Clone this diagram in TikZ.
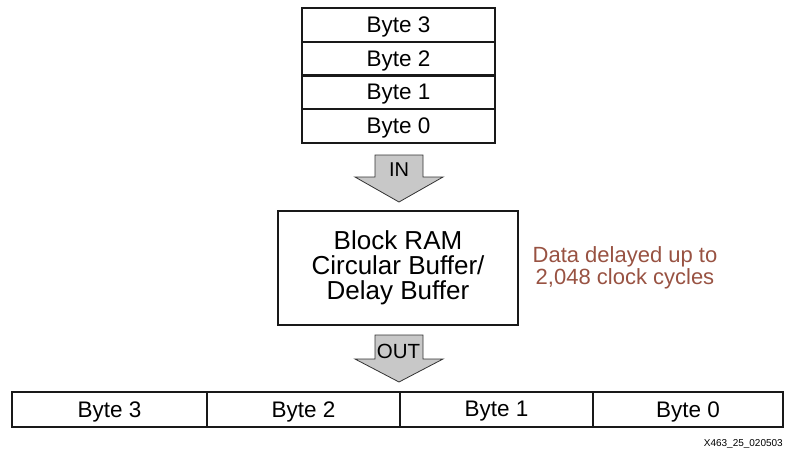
\documentclass[tikz,border=0pt]{standalone}
\usepackage{fontspec}
\setmainfont{Liberation Sans}
\definecolor{notered}{RGB}{152,82,66}
\definecolor{arrowgray}{RGB}{200,200,200}
\begin{document}
\begin{tikzpicture}[x=1pt,y=-1pt,
  cell/.style={draw=black!90, line width=2.2pt, minimum width=193pt, minimum height=33.75pt, inner sep=0pt, text depth=0.5pt, font=\fontsize{22.5}{22.5}\selectfont},
  rowcell/.style={draw=black!90, line width=2.2pt, minimum height=35pt, inner sep=0pt, text depth=0.5pt, font=\fontsize{22.5}{22.5}\selectfont},
  blockarrow/.style={fill=arrowgray, draw=black!80, line width=0.8pt},
  ram/.style={draw=black!90, line width=2.2pt, minimum width=240pt, minimum height=114pt, align=center, inner sep=0pt, font=\fontsize{26}{25}\selectfont},
  note/.style={text=notered, align=center, inner sep=0pt, font=\fontsize{22}{20.5}\selectfont}
]
\useasboundingbox (0,0) rectangle (786,453);
% top stack
\node[cell] (b3) at (398.5,24.875) {Byte 3};
\node[cell] (b2) at (398.5,58.625) {Byte 2};
\node[cell] (b1) at (398.5,92.375) {Byte 1};
\node[cell] (b0) at (398.5,126.125) {Byte 0};
% IN arrow
\draw[blockarrow] (375,155) -- (423,155) -- (423,177) -- (443,177) -- (399,202) -- (355,177) -- (375,177) -- cycle;
\node[font=\fontsize{20}{20}\selectfont, inner sep=0pt] (in) at (399,170) {IN};
% RAM
\node[ram] (ram) at (398,268) {Block RAM\\Circular Buffer/\\Delay Buffer};
\node[note] (note) at (625,268) {Data delayed up to\\2,048 clock cycles};
% OUT arrow
\draw[blockarrow] (375,335) -- (423,335) -- (423,359) -- (443,359) -- (399,382) -- (355,359) -- (375,359) -- cycle;
\node[font=\fontsize{20.5}{20.5}\selectfont, inner sep=0pt] (out) at (398.5,351) {OUT};
% bottom row
\node[rowcell, minimum width=195pt] (c3) at (109.5,409.5) {Byte 3};
\node[rowcell, minimum width=193pt] (c2) at (303.5,409.5) {Byte 2};
\node[rowcell, minimum width=193pt] (c1) at (496.5,409.5) {Byte 1};
\node[rowcell, minimum width=190pt] (c0) at (688,409.5) {Byte 0};
\node[anchor=base east, font=\fontsize{10}{10}\selectfont, inner sep=0pt] (id) at (783,446) {X463\_25\_020503};
\end{tikzpicture}
\end{document}
